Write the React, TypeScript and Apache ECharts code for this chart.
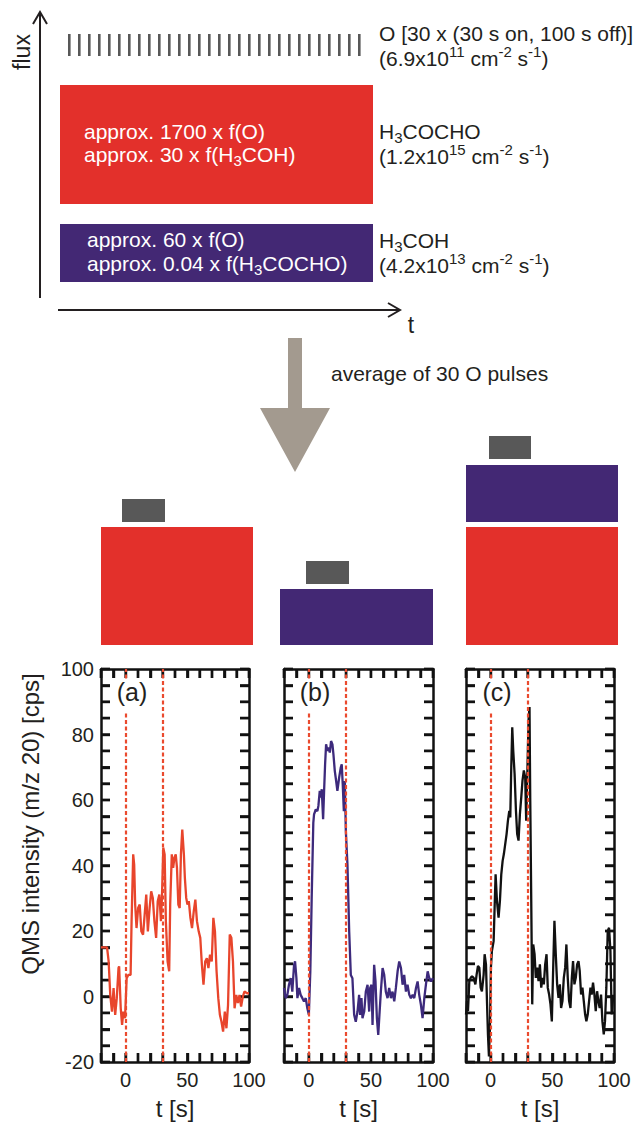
import React, { useEffect, useRef } from "react";
import * as echarts from "echarts";

const FONT = "'Liberation Sans', Arial, Helvetica, sans-serif";
const INK = "#231f20";

// ---- data -----------------------------------------------------------
const panelLabels = ["(a)", "(b)", "(c)"];
const pulseMarks = [0, 30]; // O pulse on / off (s)
const xLabelValues = [0, 50, 100];
const xTickValues = [-20, -10, 0, 10, 20, 30, 40, 50, 60, 70, 80, 90, 100];
const yTickValues = [-20, -15, -10, -5, 0, 5, 10, 15, 20, 25, 30, 35, 40, 45, 50, 55, 60, 65, 70, 75, 80, 85, 90, 95, 100];
const yMin = -20;
const yMax = 100;
const xMin = -20;
const xMax = 100;
const lineColors = ["#E8452C", "#3D2A7C", "#111111"];

// (a) H3COCHO, O pulse
const tA = [-20, -18.3, -15.1, -13.8, -12.5, -11.1, -9.8, -8.5, -7.2, -5.8, -5.3, -4.0, -2.9, -1.9, -0.5, 0.8, 2.1, 4.0, 4.8, 6.1, 6.9, 7.7, 8.8, 10.1, 11.4, 12.7, 14.1, 15.4, 16.7, 18.0, 19.4, 20.7, 22.0, 23.3, 24.7, 26.0, 27.3, 28.6, 29.4, 30.5, 31.6, 32.6, 34.0, 35.3, 36.1, 37.4, 38.5, 39.5, 40.6, 41.6, 42.7, 43.8, 44.8, 45.9, 47.2, 48.0, 49.1, 50.1, 51.2, 52.5, 53.8, 55.2, 56.5, 57.8, 59.2, 60.5, 61.8, 63.1, 64.5, 65.8, 67.1, 68.4, 69.8, 71.1, 72.4, 73.7, 75.1, 76.4, 77.7, 79.0, 80.4, 81.7, 83.0, 84.4, 85.7, 87.0, 88.3, 89.7, 91.0, 92.3, 93.6, 95.0, 96.3, 98.4, 100];
const vA = [15, 15, 15, 10.7, 0.5, -4.6, 2.6, -5.6, -0.5, 8.7, 9.2, -3.6, -8.7, -4.6, -6.6, 5.6, 6.6, 6.6, 23, 43.4, 40.3, 28.1, 20.9, 27, 28.1, 19.9, 18.9, 25, 31.1, 19.9, 27, 32.1, 30.1, 23, 17.9, 29.1, 31.1, 23, 30.1, 45.4, 43.4, 23, 10.7, 7.7, 28.1, 43.4, 39.3, 42.3, 43.4, 39.3, 28.1, 27, 43.4, 51, 43.4, 36.2, 30.1, 28.1, 29.1, 24, 20.9, 26, 29.6, 23, 19.9, 17.9, 9.7, 3.6, 10.7, 11.7, 8.7, 12.8, 10.7, 24, 19.9, 7.7, -0.5, -5.6, -7.7, -10.7, -4.6, -9.7, -2.6, 18.9, 17.9, 10.7, -3.6, 0.5, -2, 0.5, -3.1, 0, 1.5, 1, 1];

// (b) H3COH, O pulse
const tB = [-20, -18.7, -17.3, -16, -14.6, -13.3, -11.9, -11.1, -10, -9.2, -7.9, -6.6, -5.2, -3.9, -2.5, -1.2, 0, 1.2, 2.3, 3.6, 4.2, 5.6, 6.9, 7.7, 8.8, 9.6, 10.4, 11.5, 12.3, 13.1, 13.9, 15, 15.8, 16.9, 17.9, 19, 19.8, 20.9, 22, 23, 24.4, 25.7, 26.5, 27.3, 28.2, 29, 29.8, 31.1, 32.5, 33.8, 35.1, 36.5, 37.8, 39.2, 40.5, 41.3, 42.4, 43.2, 44.6, 45.9, 47.3, 48.6, 49.4, 50.5, 51.3, 52.6, 53.7, 54.8, 55.9, 56.7, 58, 59.4, 60.7, 62, 63.4, 64.7, 66.1, 67.4, 68.8, 70.1, 71.5, 72.8, 74.2, 75.5, 76.8, 78.2, 79.5, 80.9, 82.2, 83.6, 84.9, 86.3, 87.6, 88.9, 90.3, 91.6, 93, 94.3, 95.7, 97, 98.4, 100];
const vB = [2.6, -0.5, 0.5, 3.6, 5.6, 1.5, 9.7, 10.7, 5.6, -0.5, 2.6, 0.5, -0.5, -1.5, -0.5, -3.6, -5.6, 7.7, 30, 53, 55.6, 57.1, 56.6, 58.2, 62.8, 60.7, 63.3, 54.1, 62.8, 70.9, 77, 75, 76, 74.5, 78, 77, 74, 68.9, 65.8, 62.8, 66.8, 69.9, 70.9, 64.8, 56.6, 65.8, 50.5, 40.3, 19.9, 6.6, 5.6, -5.6, -7.7, -4.6, 0.5, -5.6, -0.5, -6.6, -4.6, 1.5, 3.6, -4.6, 2.6, 3.6, -8.7, 9.7, 4.6, -6.6, -11.7, -6.6, 1.5, 8.7, 6.6, 1.5, -0.5, 2.6, -0.5, 1.5, -1.5, 2.6, 7.7, 10.7, 8.7, 3.6, 6.6, 1.5, 3.6, 0.5, -0.5, 0.5, -0.5, 2.6, 4.6, 0.5, -2.6, -6.6, -0.5, 3.6, 7.7, 5.6, 4.6, 5.6];

// (c) H3COCHO + H3COH, O pulse
const tC = [-20, -19.2, -18.4, -17.3, -16.2, -15.1, -13.8, -12.4, -11.4, -10.3, -9.2, -8.1, -7.1, -5.7, -4.9, -3.8, -3, -2.2, -1.4, -0.6, 0.2, 1, 2.4, 3.2, 4, 5.1, 6.4, 7.5, 8.6, 9.7, 10.7, 11.8, 12.9, 14, 15.1, 15.9, 16.7, 17.5, 18.3, 19.4, 20.5, 21.5, 22.6, 23.7, 24.8, 25.8, 26.9, 28, 28.8, 29.6, 30.7, 31.5, 32.1, 32.9, 33.7, 34.5, 35.6, 36.6, 37.7, 38.8, 39.9, 41, 42, 43.1, 44.2, 45.3, 46.3, 47.4, 48.5, 49.6, 50.7, 51.7, 52.8, 53.9, 55, 56.1, 57.1, 58.2, 59.3, 60.4, 61.4, 62.5, 63.6, 64.7, 65.8, 66.8, 67.9, 69, 70.1, 71.2, 72.2, 73.3, 74.4, 75.5, 76.6, 77.6, 78.7, 79.8, 80.9, 81.9, 83, 84.1, 85.2, 86.3, 87.3, 88.4, 89.5, 90.6, 91.7, 92.7, 93.8, 94.9, 96, 97.1, 98.1, 99.5];
const vC = [-5.5, -1.4, -4.5, 4.7, 5.7, 6.2, 5.7, 3.7, 6.7, 9.3, 8.8, 2.7, 1.6, 6.7, 12.9, 9.8, -1.4, -11.6, -18.3, -9.6, 8.8, 13.9, 16.9, 27.1, 37.3, 29.2, 24.1, 29.2, 37.3, 41.4, 43.5, 46.5, 49.6, 53.7, 56.7, 54.7, 70, 82.2, 75.1, 68, 56.7, 49.6, 47.6, 55.7, 60.8, 65.9, 69, 66.9, 53.7, 65.9, 84.3, 88.4, 59.8, 29.2, -2.4, 15.9, 12.9, 5.7, 8.8, 4.7, 9.8, 2.7, 5.7, 3.7, 9.8, 12.9, 2.7, 0.6, -2.4, -7.6, 8.8, 23.1, 12.9, 3.7, -0.4, 3.7, -3.5, -1.4, 5.7, 8.8, 15.9, 5.7, -1.4, -3.5, 5.7, 10.8, 3.7, 5.7, 9.8, 10.8, 7.8, 0.6, 2.7, -1.4, -5.5, -7.6, -5.5, -1.4, 2.7, 0.6, 4.2, 0.6, -4.5, 1.6, -1.4, -3.5, 0.6, -7.6, -11.6, -7.6, 2.7, 20, 21, 13.9, -5.5, 0.6];

const seriesT = [tA, tB, tC];
const seriesV = [vA, vB, vC];

// schematic flux annotations (top)
const pulseCount = 30;
const fluxLabels = [
  "O [30 x (30 s on, 100 s off)]",
  "(6.9x10{sup|11} cm{sup|-2} s{sup|-1})",
];
const methylFormateLabels = ["H{sub|3}COCHO", "(1.2x10{sup|15} cm{sup|-2} s{sup|-1})"];
const methanolLabels = ["H{sub|3}COH", "(4.2x10{sup|13} cm{sup|-2} s{sup|-1})"];
const redBoxLabels = ["approx. 1700 x f(O)", "approx. 30 x f(H{sub|3}COH)"];
const blueBoxLabels = ["approx. 60 x f(O)", "approx. 0.04 x f(H{sub|3}COCHO)"];

// ---- layout ---------------------------------------------------------
const RED = "#E3302B";
const BLUE = "#432874";
const GREY = "#585858";
const ARROW = "#A39A8F";
const FRAME = "#111111";
const TICK_LEN = 9;
const TICK_W = 2.4;
const grids = [
  { left: 101, top: 669, width: 148, height: 393 },
  { left: 284, top: 669, width: 149, height: 393 },
  { left: 466, top: 669, width: 148, height: 393 },
];

const rich = {
  sub: { fontSize: 15, lineHeight: 12, verticalAlign: "bottom", fontFamily: FONT },
  sup: { fontSize: 15, lineHeight: 10, verticalAlign: "top", fontFamily: FONT },
};

function label(text: string, x: number, y: number, fill = INK, fontSize = 21, extra: any = {}) {
  return {
    type: "text",
    x,
    y,
    z: 50,
    style: {
      text,
      fill,
      fontSize,
      fontFamily: FONT,
      lineHeight: 28,
      align: "left",
      verticalAlign: "middle",
      rich: {
        sub: { ...rich.sub, fill },
        sup: { ...rich.sup, fill },
      },
      ...extra,
    },
  };
}

// inward frame ticks (axis furniture) as small filled rects on each grid's box
function frameTicks(): any[] {
  const els: any[] = [];
  const style = { fill: FRAME };
  const h = TICK_W / 2;
  grids.forEach((g) => {
    const bottom = g.top + g.height;
    const right = g.left + g.width;
    xTickValues.forEach((v) => {
      const px = g.left + ((v - xMin) / (xMax - xMin)) * g.width;
      els.push({ type: "rect", shape: { x: px - h, y: bottom - TICK_LEN, width: TICK_W, height: TICK_LEN }, style });
      els.push({ type: "rect", shape: { x: px - h, y: g.top, width: TICK_W, height: TICK_LEN }, style });
    });
    yTickValues.forEach((v) => {
      const py = bottom - ((v - yMin) / (yMax - yMin)) * g.height;
      els.push({ type: "rect", shape: { x: g.left, y: py - h, width: TICK_LEN, height: TICK_W }, style });
      els.push({ type: "rect", shape: { x: right - TICK_LEN, y: py - h, width: TICK_LEN, height: TICK_W }, style });
    });
  });
  return els;
}

function buildGraphics(): any[] {
  const graphics: any[] = [];

  // ---- top flux schematic ----
  graphics.push({
    type: "text",
    x: 22,
    y: 52,
    rotation: Math.PI / 2,
    style: { text: "flux", fontSize: 23, fontFamily: FONT, fill: INK, align: "center", verticalAlign: "middle" },
  });
  graphics.push({ type: "line", shape: { x1: 40, y1: 298, x2: 40, y2: 12 }, style: { stroke: INK, lineWidth: 2 } });
  graphics.push({ type: "polyline", shape: { points: [[33, 24], [40, 12], [47, 24]] }, style: { stroke: INK, lineWidth: 2, fill: null } });
  graphics.push({ type: "line", shape: { x1: 58, y1: 310, x2: 400, y2: 310 }, style: { stroke: INK, lineWidth: 2 } });
  graphics.push({ type: "polyline", shape: { points: [[388, 303], [400, 310], [388, 317]] }, style: { stroke: INK, lineWidth: 2, fill: null } });
  graphics.push({
    type: "text",
    x: 411,
    y: 325,
    style: { text: "t", fontSize: 23, fontFamily: FONT, fill: INK, align: "center", verticalAlign: "middle" },
  });
  for (let k = 0; k < pulseCount; k++) {
    graphics.push({ type: "rect", shape: { x: 68 + k * 10, y: 34, width: 2.6, height: 22 }, style: { fill: GREY } });
  }
  graphics.push(label(fluxLabels[0], 379, 33));
  graphics.push(label(fluxLabels[1], 379, 58));

  graphics.push({ type: "rect", shape: { x: 60, y: 85, width: 313, height: 119 }, style: { fill: RED } });
  graphics.push(label(redBoxLabels[0], 84, 131, "#fff"));
  graphics.push(label(redBoxLabels[1], 84, 154, "#fff"));
  graphics.push(label(methylFormateLabels[0], 379, 131));
  graphics.push(label(methylFormateLabels[1], 379, 156));

  graphics.push({ type: "rect", shape: { x: 60, y: 224, width: 313, height: 58 }, style: { fill: BLUE } });
  graphics.push(label(blueBoxLabels[0], 87, 239, "#fff"));
  graphics.push(label(blueBoxLabels[1], 87, 263, "#fff"));
  graphics.push(label(methanolLabels[0], 379, 240));
  graphics.push(label(methanolLabels[1], 379, 265));

  // ---- averaging arrow ----
  graphics.push({
    type: "polygon",
    shape: { points: [[288, 338], [302, 338], [302, 408], [330, 408], [295, 472], [260, 408], [288, 408]] },
    style: { fill: ARROW },
  });
  graphics.push(label("average of 30 O pulses", 331, 373));

  // ---- experiment blocks ----
  graphics.push({ type: "rect", shape: { x: 101, y: 527, width: 152, height: 118 }, style: { fill: RED } });
  graphics.push({ type: "rect", shape: { x: 122, y: 499, width: 43, height: 23 }, style: { fill: GREY } });
  graphics.push({ type: "rect", shape: { x: 280, y: 589, width: 153, height: 56 }, style: { fill: BLUE } });
  graphics.push({ type: "rect", shape: { x: 306, y: 561, width: 43, height: 23 }, style: { fill: GREY } });
  graphics.push({ type: "rect", shape: { x: 466, y: 465, width: 152, height: 57 }, style: { fill: BLUE } });
  graphics.push({ type: "rect", shape: { x: 466, y: 527, width: 152, height: 118 }, style: { fill: RED } });
  graphics.push({ type: "rect", shape: { x: 489, y: 436, width: 42, height: 23 }, style: { fill: GREY } });

  // ---- frame ticks ----
  graphics.push(...frameTicks());

  // ---- panel letters (white backing box hides the dashed line) ----
  const letterBoxes = [
    { x: 111, w: 40, cx: 132 },
    { x: 293, w: 44, cx: 315 },
    { x: 477, w: 40, cx: 497 },
  ];
  letterBoxes.forEach((b, i) => {
    graphics.push({ type: "rect", z: 100, shape: { x: b.x, y: 672 + TICK_LEN, width: b.w, height: 31 }, style: { fill: "#fff" } });
    graphics.push({
      type: "text",
      z: 101,
      x: b.cx,
      y: 692,
      style: { text: panelLabels[i], fontSize: 25, fontFamily: FONT, fill: INK, align: "center", verticalAlign: "middle" },
    });
  });

  // ---- y-axis title ----
  graphics.push({
    type: "text",
    x: 30,
    y: 824,
    rotation: Math.PI / 2,
    style: {
      text: "QMS intensity (m/z 20) [cps]",
      fontSize: 24,
      fontFamily: FONT,
      fill: INK,
      align: "center",
      verticalAlign: "middle",
    },
  });
  return graphics;
}

function buildOption() {
  const axisLine = { show: true, onZero: false, lineStyle: { color: FRAME, width: 2.5 } };
  const xAxes: any[] = [];
  const yAxes: any[] = [];
  const series: any[] = [];

  grids.forEach((_, i) => {
    const xBase = {
      type: "value",
      gridIndex: i,
      min: xMin,
      max: xMax,
      interval: 10,
      axisLine,
      axisTick: { show: true, inside: true, length: TICK_LEN, lineStyle: { color: FRAME, width: TICK_W } },
      splitLine: { show: false },
    };
    xAxes.push({
      ...xBase,
      position: "bottom",
      axisLabel: {
        show: true,
        margin: 8,
        fontSize: 20,
        color: INK,
        fontFamily: FONT,
        formatter: (v: number) => (xLabelValues.includes(v) ? String(v) : ""),
      },
      name: "t [s]",
      nameLocation: "middle",
      nameGap: 34,
      nameTextStyle: { fontSize: 24, color: INK, fontFamily: FONT },
    });
    xAxes.push({ ...xBase, position: "top", axisLabel: { show: false } });

    const yBase = {
      type: "value",
      gridIndex: i,
      min: yMin,
      max: yMax,
      interval: 20,
      axisLine,
      axisTick: { show: true, inside: true, length: TICK_LEN, lineStyle: { color: FRAME, width: TICK_W } },
      minorTick: { show: true, splitNumber: 4, length: TICK_LEN, lineStyle: { color: FRAME, width: TICK_W } },
      splitLine: { show: false },
      minorSplitLine: { show: false },
    };
    yAxes.push({
      ...yBase,
      position: "left",
      axisLabel: { show: i === 0, margin: 7, fontSize: 20, color: INK, fontFamily: FONT },
    });
    yAxes.push({ ...yBase, position: "right", axisLabel: { show: false } });

    series.push({
      type: "line",
      xAxisIndex: 2 * i,
      yAxisIndex: 2 * i,
      data: seriesT[i].map((t, k) => [t, seriesV[i][k]]),
      showSymbol: false,
      symbol: "none",
      clip: true,
      lineStyle: { color: lineColors[i], width: 2.3 },
      itemStyle: { color: lineColors[i] },
      z: 3,
      markLine: {
        silent: true,
        symbol: ["none", "none"],
        label: { show: false },
        lineStyle: { color: "#EA4A2E", type: [4, 2.5], width: 2.2 },
        data: pulseMarks.map((x) => ({ xAxis: x })),
        z: 4,
      },
    });
  });

  return {
    animation: false,
    backgroundColor: "#fff",
    textStyle: { fontFamily: FONT },
    grid: grids.map((g) => ({ ...g, containLabel: false })),
    xAxis: xAxes,
    yAxis: yAxes,
    series,
    graphic: { elements: buildGraphics() },
  };
}

export default function App() {
  const ref = useRef<HTMLDivElement>(null);
  useEffect(() => {
    if (!ref.current) return;
    const chart = echarts.init(ref.current, null, { renderer: "svg" });
    chart.setOption(buildOption() as any);
    return () => chart.dispose();
  }, []);
  return (
    <div
      ref={ref}
      style={{ position: "absolute", left: 0, top: 0, width: 639, height: 1124, background: "#fff" }}
    />
  );
}
